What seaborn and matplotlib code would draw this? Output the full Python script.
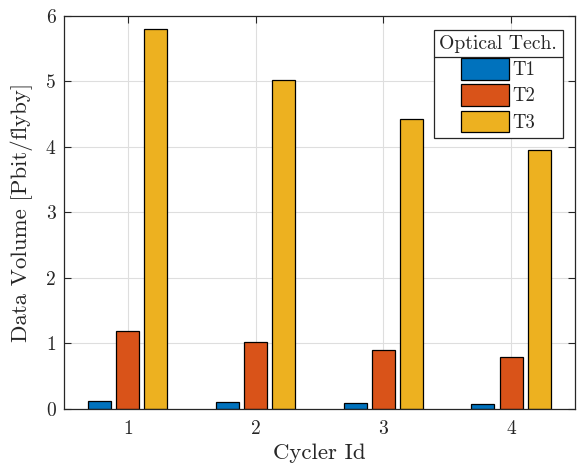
import matplotlib
matplotlib.use("Agg")
import matplotlib.pyplot as plt
import seaborn as sns
import pandas as pd
from matplotlib.lines import Line2D

cyclers = ["1", "2", "3", "4"]
techs = ["T1", "T2", "T3"]
t1 = [0.12, 0.10, 0.09, 0.075]
t2 = [1.19, 1.03, 0.905, 0.80]
t3 = [5.80, 5.02, 4.43, 3.95]
yticks = [0, 1, 2, 3, 4, 5, 6]

df = pd.DataFrame({
    "Cycler": cyclers * 3,
    "Tech": ["T1"] * 4 + ["T2"] * 4 + ["T3"] * 4,
    "Value": t1 + t2 + t3,
})

sns.set_theme(style="white")
plt.rcParams["font.family"] = ["cmr10", "DejaVu Serif"]
plt.rcParams["axes.formatter.use_mathtext"] = True
plt.rcParams["mathtext.fontset"] = "cm"

txt = "#262626"
fig = plt.figure(figsize=(5.79, 4.70), dpi=100)
ax = fig.add_axes([0.1105, 0.1298, 0.8825, 0.8362])

palette = ["#0072BD", "#D95319", "#EDB120"]
sns.barplot(data=df, x="Cycler", y="Value", hue="Tech", hue_order=techs,
            order=cyclers, palette=palette, width=0.66, gap=0.18,
            edgecolor="black", linewidth=0.9, saturation=1, ax=ax, zorder=3)

ax.set_xlim(-0.5, 3.5)
ax.set_ylim(0, 6)
ax.set_yticks(yticks)
ax.set_yticklabels([str(v) for v in yticks])
ax.grid(True, color="#dedede", linewidth=0.8, zorder=0)
ax.set_axisbelow(True)
for s in ax.spines.values():
    s.set_color(txt)
    s.set_linewidth(0.9)
    s.set_zorder(5)
ax.tick_params(axis="both", which="both", direction="in", length=5,
               width=0.8, color=txt, labelcolor=txt, labelsize=14,
               top=True, right=True, bottom=True, left=True)
ax.tick_params(axis="x", pad=8)
ax.tick_params(axis="y", pad=6)
ax.set_xlabel("Cycler Id", fontsize=16.5, color=txt, labelpad=4)
ax.set_ylabel("Data Volume [Pbit/flyby]", fontsize=16.5, color=txt, labelpad=9)

leg = ax.legend(title="Optical Tech.", loc="upper right",
                bbox_to_anchor=(0.976, 0.965), fontsize=13.5, title_fontsize=14.2,
                frameon=True, fancybox=False, framealpha=1, edgecolor=txt,
                handlelength=2.55, handleheight=1.4, handletextpad=0.15,
                labelspacing=0.25, borderpad=0.3, borderaxespad=0)
leg.get_frame().set_linewidth(0.9)
leg.set_zorder(10)

fig.canvas.draw()
r = fig.canvas.get_renderer()
lb = leg.get_window_extent(r)
tb = leg.get_title().get_window_extent(r)
ysep = tb.y0 - 4
inv = fig.transFigure.inverted()
(x0, y0) = inv.transform((lb.x0, ysep))
(x1, _) = inv.transform((lb.x1, ysep))
fig.add_artist(Line2D([x0, x1], [y0, y0], color=txt, linewidth=0.9, zorder=20))

fig.savefig("out.png", dpi=100)
